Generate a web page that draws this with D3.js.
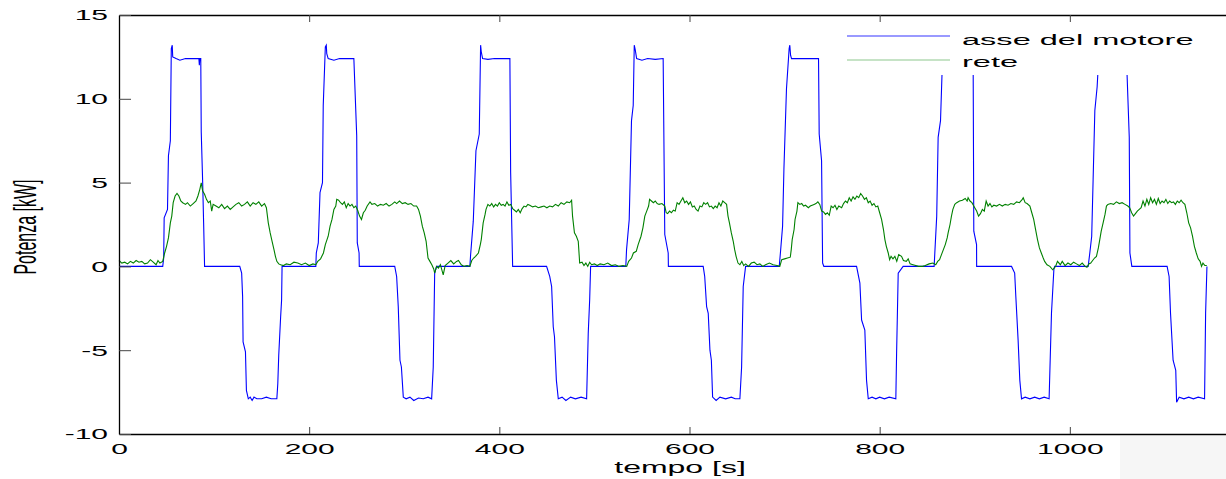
<!DOCTYPE html>
<html>
<head>
<meta charset="utf-8">
<script src="https://cdn.jsdelivr.net/npm/d3@7"></script>
<style>
  body { margin: 0; background: #fff; }
  svg { display: block; }
  text { font-family: "Liberation Sans", Arial, sans-serif; fill: #000; }
</style>
</head>
<body>
<div id="content"><svg width="1226" height="479"></svg></div>
<script>
// values (tempo [s], potenza [kW])
var seriesNames = ["asse del motore", "rete"];
var seriesColors = ["#0000ff", "#008000"];
var xTicks = [0, 200, 400, 600, 800, 1000];
var yTicks = [-10, -5, 0, 5, 10, 15];

var motore = [
    [0,0],[46,0],[47,0.5],[47.5,2.9],[51,3.4],[52,6.6],[54,7.5],[55,13.0],[56,13.2],[56.5,12.5],[60,12.4],[64,12.3],[70,12.4],[78,12.4],[84,12.4],[84.5,12.0],[85,12.4],[86,12.4],[86.5,8.0],[88,5.0],[89,2.6],[90,0],
    [127,0],[129,-0.4],[130,-1.8],[130.5,-4.5],[133,-5.1],[134,-7.4],[136,-7.9],[138,-7.8],[140,-8.0],[142,-7.8],[145,-7.9],[150,-7.9],[155,-7.8],[160,-7.9],[166,-7.9],[167,-7.0],[168,-5.3],[170,-3.0],[171,-2.0],[171.5,0],
    [207,0],[207.5,0.8],[209.6,1.4],[211.4,4.4],[214,5.0],[214.8,9.6],[217,13.1],[218,13.2],[218.5,12.7],[220,12.4],[226,12.3],[232,12.4],[240,12.4],[247,12.4],[250,7.8],[250.6,1.4],[252.5,0.8],[252.7,0],
    [290,0],[292,-0.6],[293.7,-2.4],[295.5,-5.6],[297,-6.0],[299,-7.8],[302,-7.9],[306,-7.8],[310,-8.0],[315,-7.85],[320,-7.9],[325,-7.8],[328.8,-7.9],[330.5,-6.0],[332,-0.4],[334,0],
    [369,0],[369.8,0.7],[372.6,2.7],[375.4,6.9],[378.9,7.9],[380.3,13.2],[381,12.8],[382.4,12.4],[388,12.35],[395,12.4],[403,12.4],[411.1,12.4],[411.9,5.6],[414,0],
    [449.7,0],[453,-0.6],[455,-1.2],[456.7,-3.6],[458,-4.2],[460,-6.8],[462,-7.9],[466,-7.8],[470,-8.0],[475,-7.8],[480,-7.9],[486,-7.8],[491.8,-7.9],[493.5,-4.0],[495,-2.0],[496,0],
    [533,0],[533.8,1.0],[536.6,2.8],[539,8.7],[540.8,9.6],[541.9,13.2],[543,12.9],[544.4,12.4],[550,12.3],[556,12.4],[564,12.35],[572.3,12.4],[574,1.9],[577.6,0.8],[577.8,0],
    [614.4,0],[616,-0.6],[618,-2.4],[619.7,-2.8],[621.5,-5.0],[623,-5.6],[624.3,-7.8],[628,-8.0],[632,-7.8],[638,-7.9],[644,-7.8],[648,-7.9],[653,-7.9],[654.8,-6.0],[656.5,-1.2],[659,0],
    [694.4,0],[695.6,0.8],[697.9,2.4],[699.3,5.8],[702,10.6],[704.8,13.0],[705.5,13.2],[706.3,12.6],[707.3,12.4],[714,12.4],[722,12.4],[730,12.4],[735.7,12.4],[736.4,7.9],[738.9,6.3],[740,0.2],[741.3,0],
    [775.7,0],[779.2,-1.0],[781,-3.2],[784.4,-3.8],[786.2,-6.8],[788,-7.9],[792,-7.8],[796,-7.9],[800,-7.8],[805,-7.9],[810,-7.8],[817,-7.9],[817.8,-5.2],[819.5,-0.4],[824.7,0],
    [857.3,0],[858,0.8],[860,3.0],[861.5,7.7],[864,8.7],[866.5,13.1],[867.6,12.4],[875,12.4],[885,12.4],[898.3,12.4],[899,2.1],[901.9,1.3],[902,0],
    [938.7,0],[942,-0.4],[943.2,-1.8],[945.6,-4.4],[947.4,-6.8],[949.2,-7.9],[953,-7.8],[958,-7.9],[963,-7.8],[968,-7.9],[973,-7.8],[978.2,-7.9],[980.7,-2.8],[983.2,-0.2],[984,0],
    [1019.3,0],[1021,0.8],[1023,1.8],[1024.5,5.2],[1026.3,9.3],[1028.7,10.7],[1031,13.1],[1032.5,12.4],[1040,12.4],[1050,12.4],[1059.6,12.4],[1062.5,7.7],[1063.2,0.8],[1065.2,0],
    [1102.3,0],[1104.4,-0.6],[1105.9,-2.8],[1108.6,-5.6],[1111.4,-6.2],[1112.3,-8.1],[1115,-7.8],[1120,-7.9],[1125,-7.8],[1130,-7.9],[1135,-7.8],[1141.7,-7.9],[1142.8,-2.8],[1144.2,0]
];

var rete = [
    [0,0.35],[3,0.2],[6,0.25],[9,0.15],[12,0.3],[15,0.2],[18,0.35],[21,0.25],[24,0.3],[27,0.15],[30,0.2],[33,0.4],[36,0.25],[39,0.1],[41,0.35],[43,0.2],[46,0.3],
    [48,0.8],[50,1.2],[52,1.7],[54,2.6],[55.5,3.0],[57,3.8],[59,4.2],[61,4.35],[63,4.2],[65,3.9],[67,3.8],[70,3.7],[72,3.8],[75,3.6],[78,3.75],[81,3.9],[83,4.2],[85,4.6],[86.5,4.98],[88,4.5],[90,4.3],[92,4.0],[94,3.8],[96,3.9],[97.5,3.3],[99,3.7],[102,3.6],[105,3.5],[108,3.7],[111,3.45],[114,3.6],[117,3.4],[120,3.55],[123,3.7],[126,3.8],[129,3.6],[132,3.7],[135,3.85],[138,3.6],[141,3.8],[144,3.7],[147,3.85],[150,3.6],[153,3.75],[155,3.5],
    [157,2.6],[159,2.0],[161,1.5],[163,1.0],[164.5,0.6],[166,0.3],[168,0.15],[170,0.1],[173,0.05],[176,0.15],[180,0.1],[184,0.25],[188,0.2],[192,0.1],[196,0.2],[200,0.05],[204,0.15],[207,0.1],
    [209,0.3],[212,0.45],[215,0.8],[217,1.3],[220,1.8],[222,2.4],[224,2.8],[226,3.4],[228,3.6],[229,4.0],[231,3.95],[233,3.8],[235,3.7],[237,3.85],[239,3.5],[241,3.75],[243,3.6],[245,3.7],[247,3.5],[249,3.6],[251,3.35],[253,3.0],[255,2.8],[257,3.2],[259,3.35],[261,3.6],[264,3.85],[266,3.7],[269,3.75],[272,3.6],[275,3.7],[278,3.65],[281,3.75],[284,3.6],[287,3.7],[290,3.85],[292,3.75],[295,3.9],[298,3.75],[301,3.8],[304,3.7],[307,3.75],[310,3.6],[313,3.6],[315,3.4],
    [317,3.0],[319,2.4],[321,2.0],[323,1.5],[325,0.5],[327,0.3],[329,0.1],[331,-0.15],[332,-0.4],[334,0.0],[336,-0.1],[338,0.1],[341,-0.5],[343,0.05],[346,0.2],[349,0.35],[352,0.15],[355,0.3],[357,0.35],[360,0.1],[363,0.0],[366,0.05],[369,0.0],
    [371,0.35],[373,0.5],[375,0.6],[378,0.8],[380,1.3],[381,1.6],[383,2.6],[385,3.1],[386,3.4],[388,3.7],[390,3.6],[392,3.75],[394,3.55],[396,3.7],[398,3.6],[400,3.8],[402,3.65],[404,3.7],[406,3.6],[408,3.85],[410,3.65],[412,3.7],[414,3.45],[416,3.35],[418,3.25],[420,3.4],[422,3.2],[424,3.45],[426,3.6],[428,3.55],[430,3.7],[432,3.65],[435,3.55],[438,3.6],[441,3.5],[444,3.55],[447,3.6],[450,3.5],[453,3.6],[456,3.55],[459,3.7],[462,3.6],[465,3.8],[468,3.7],[471,3.85],[474,3.8],[476,3.95],
    [477,3.0],[479,2.0],[481,1.8],[483,1.5],[484.5,0.2],[487,0.25],[489,0.05],[491,0.2],[493,0.0],[495,0.25],[497,0.1],[500,0.15],[503,0.05],[506,0.15],[510,0.1],[514,0.2],[518,0.05],[522,0.1],[526,0.0],[530,0.05],[534,0.0],
    [536,0.3],[539,0.5],[541,0.8],[544,0.9],[546,1.3],[549,1.8],[551,2.3],[553,3.0],[555,3.3],[557,3.6],[558,4.0],[560,3.9],[562,3.8],[564,3.9],[566,3.75],[568,3.7],[571,3.75],[574,3.6],[575.5,3.2],[577,3.15],[579,3.3],[581,3.2],[583,3.35],[585,3.3],[587,3.8],[589,3.7],[591,3.9],[593,4.1],[595,3.8],[597,3.9],[599,3.7],[601,3.85],[603,3.55],[605,3.6],[607,3.4],[609,3.3],[611,3.6],[613,3.55],[615,3.8],[617,3.7],[619,3.8],[621,3.55],[623,3.6],[625,3.45],[627,3.6],[629,3.5],[631,3.8],[633,3.6],[635,3.9],[637,3.8],[639,3.7],
    [640.5,3.0],[642,2.6],[644,2.0],[646,1.5],[647.5,1.0],[649,0.6],[651,0.2],[653,0.1],[655,0.3],[657,0.05],[659,0.15],[662,0.0],[665,0.2],[668,0.25],[671,0.1],[674,0.15],[677,0.0],[680,0.1],[684,0.2],[688,0.1],[692,0.05],[695,0.0],
    [697,0.4],[700,0.45],[703,0.5],[706,0.55],[707,1.0],[708,1.6],[710,2.2],[711,2.8],[713,3.3],[714,3.8],[716,3.7],[718,3.75],[720,3.6],[722,3.65],[725,3.5],[727,3.6],[729,3.65],[731,3.7],[733,3.75],[735,3.85],[737,3.7],[739,3.3],[741,3.25],[743,3.1],[745,3.2],[747,3.05],[749,3.6],[751,3.5],[753,3.65],[755,3.4],[757,3.6],[760,3.5],[762,3.75],[764,3.9],[766,3.8],[768,4.1],[770,3.9],[772,4.15],[774,4.0],[776,4.2],[778,4.1],[780,4.35],[782,4.2],[784,4.0],[786,4.1],[788,3.8],[790,3.9],[792,3.65],[794,3.75],[796,3.55],[798,3.6],
    [800,3.2],[802,2.8],[804,2.2],[805.5,1.6],[807,1.2],[809,0.8],[810.5,0.4],[812,0.6],[814,0.45],[816,0.6],[818,0.3],[820,0.7],[823,0.6],[825,0.35],[828,0.3],[830,0.45],[832,0.15],[835,0.1],[838,0.05],[841,0.0],[845,0.0],[848,0.05],[852,0.15],[856,0.2],[859,0.1],
    [861,0.3],[863,0.4],[865,0.7],[867,1.0],[869,1.3],[871,1.7],[872,2.0],[874,2.5],[875.5,3.0],[877,3.4],[879,3.7],[881,3.8],[884,3.9],[887,3.95],[890,4.05],[892,3.9],[893,4.1],[895,3.9],[897,3.8],[899,3.6],[900,3.5],[902,3.3],[904,3.0],[906,3.15],[908,3.4],[910,3.3],[912,3.9],[914,3.6],[916,3.75],[918,3.55],[920,3.65],[923,3.6],[926,3.7],[929,3.6],[932,3.7],[935,3.65],[938,3.75],[941,3.7],[944,3.85],[947,3.8],[950,4.0],[951,4.1],[953,3.8],[955,3.75],[958,3.6],
    [960,3.2],[962,2.8],[964,2.2],[966,1.6],[968,1.1],[970,0.8],[972,0.5],[973.5,0.3],[976,0.1],[979,0.0],[982,-0.2],[985,0.0],[987,0.3],[990,0.1],[992,0.3],[995,0.05],[998,0.2],[1001,0.1],[1004,0.25],[1007,0.15],[1010,0.05],[1013,0.2],[1016,0.0],[1018,-0.05],[1020,0.15],
    [1022,0.2],[1024,0.35],[1026,0.5],[1028,0.6],[1030,1.1],[1031.5,1.6],[1033,2.1],[1035,2.6],[1037,3.1],[1038.5,3.6],[1040,3.7],[1043,3.75],[1046,3.7],[1049,3.85],[1052,3.75],[1055,3.8],[1058,3.7],[1061,3.6],[1063,3.5],[1065,3.2],[1067,3.0],[1069,3.15],[1071,3.3],[1073,3.4],[1075,3.5],[1077,3.9],[1079,3.6],[1081,4.0],[1083,3.7],[1085,4.1],[1087,3.8],[1089,4.0],[1091,3.7],[1093,4.05],[1095,3.75],[1097,3.9],[1099,3.8],[1101,4.0],[1103,3.75],[1105,3.9],[1107,3.8],[1109,3.85],[1111,3.7],[1113,3.9],[1115,3.8],[1117,3.95],[1119,3.8],[1121,3.7],
    [1123,3.2],[1125,2.6],[1127,2.3],[1129,1.8],[1131,1.2],[1133,0.8],[1135,0.45],[1137,0.3],[1138.5,0.0],[1140,0.2],[1142,0.05],[1144,0.05]
];

function drawChart() {
    var svg = d3.select("#content").select("svg");
    var margin = {top: 15, left: 119, bottom: 45},
        height = +svg.attr("height") - margin.top - margin.bottom;

    // the axes run past the right edge of the picture, as in the original
    var xScale = d3.scaleLinear().domain([0, 1200]).range([0, 1141]);
    var yScale = d3.scaleLinear().domain([-10, 15]).range([height, 0]);

    // faint grey patch in the lower right corner
    svg.append("rect")
        .attr("x", 1120).attr("y", 436)
        .attr("width", 106).attr("height", 43)
        .attr("fill", "#f6f6f6");

    var g = svg.append("g")
        .attr("transform", "translate(" + margin.left + "," + margin.top + ")");

    var line = d3.line()
        .x(function (d) {return xScale(d[0]);})
        .y(function (d) {return yScale(d[1]);});

    g.append("path")
        .datum(motore)
        .attr("fill", "none")
        .attr("stroke", seriesColors[0])
        .attr("stroke-width", 1.1)
        .attr("d", line);

    g.append("path")
        .datum(rete)
        .attr("fill", "none")
        .attr("stroke", seriesColors[1])
        .attr("stroke-width", 1.1)
        .attr("d", line);

    // legend sits on a white box that hides the tops of the last peaks
    var leg = g.append("g").attr("transform", "translate(724,0)");
    leg.append("rect")
        .attr("x", 0).attr("y", 3)
        .attr("width", 420).attr("height", 57)
        .attr("fill", "#fff");
    seriesNames.forEach(function (name, i) {
        leg.append("line")
            .attr("x1", 4).attr("x2", 107)
            .attr("y1", 21 + i * 24).attr("y2", 21 + i * 24)
            .attr("stroke", seriesColors[i])
            .attr("stroke-opacity", i == 1 ? 0.45 : 0.8)
            .attr("stroke-width", 1.2);
        leg.append("text")
            .attr("transform", "translate(119," + (30 + i * 22) + ") scale(2.1,1)")
            .style("font-size", "15.5px")
            .text(name);
    });

    // axes, MATLAB style ticks pointing inward
    var fmt = function (d) {return String(d);};
    var xAxis = d3.axisBottom(xScale).tickValues(xTicks).tickFormat(fmt).tickSizeInner(-7).tickSizeOuter(0).tickPadding(9);
    var gx = g.append("g").attr("transform", "translate(0," + height + ")").call(xAxis);
    g.append("g").call(d3.axisTop(xScale).tickValues(xTicks).tickSizeInner(-7).tickSizeOuter(0).tickFormat(""));

    var yAxis = d3.axisLeft(yScale).tickValues(yTicks).tickFormat(fmt).tickSizeInner(-12).tickSizeOuter(0);
    var gy = g.append("g").call(yAxis);

    g.selectAll(".domain").attr("stroke", "#000").attr("stroke-width", 1.3);
    g.selectAll(".tick line").attr("stroke", "#444");

    gx.selectAll("text")
        .attr("transform", "scale(2,1)")
        .style("font-size", "15px")
        .attr("fill", "#000");
    gy.selectAll("text")
        .attr("x", -5.5)
        .attr("transform", "scale(2,1)")
        .style("font-size", "15px")
        .attr("fill", "#000");

    svg.append("text")
        .attr("transform", "translate(680,473) scale(2,1)")
        .attr("text-anchor", "middle")
        .style("font-size", "16px")
        .text("tempo [s]");

    svg.append("text")
        .attr("transform", "translate(36,227) scale(2,1) rotate(-90)")
        .attr("text-anchor", "middle")
        .style("font-size", "16px")
        .text("Potenza [kW]");
}

drawChart();
</script>
</body>
</html>
